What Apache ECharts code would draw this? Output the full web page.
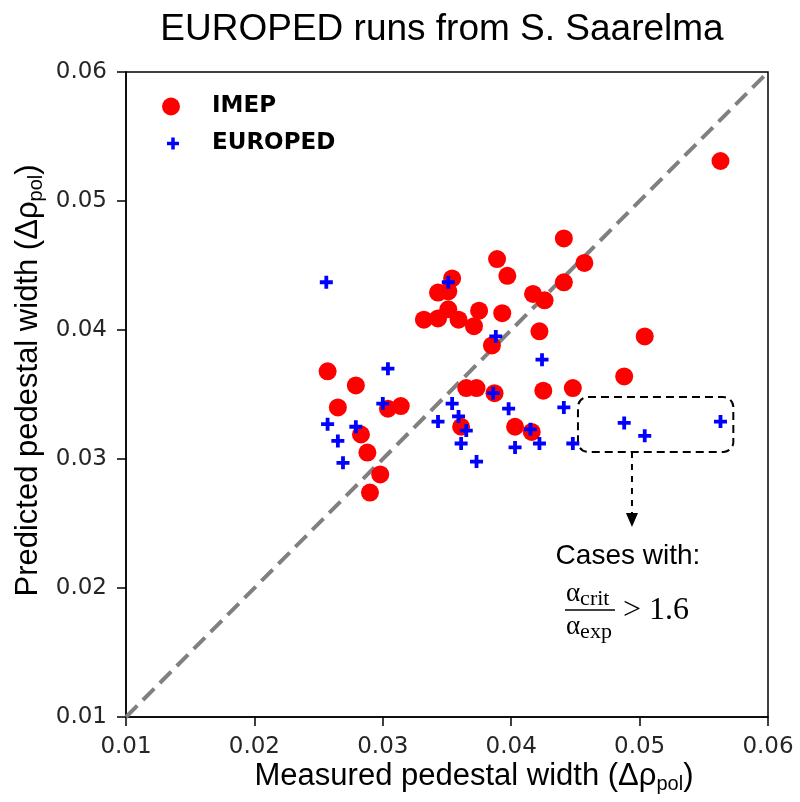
<!DOCTYPE html>
<html>
<head>
<meta charset="utf-8">
<script src="https://cdn.jsdelivr.net/npm/echarts@6/dist/echarts.min.js"></script>
<style>
  html, body { margin: 0; padding: 0; background: #fff; }
  #chart { width: 800px; height: 802px; }
</style>
</head>
<body>
<div id="chart"></div>
<script>
// Measured vs predicted pedestal width, [measured, predicted]
const imepPoints = [
  [0.0563, 0.0531], [0.0441, 0.0471], [0.0457, 0.0452], [0.0441, 0.0437],
  [0.0417, 0.0428], [0.0426, 0.0423], [0.0422, 0.0399], [0.0504, 0.0395],
  [0.0488, 0.0364], [0.0425, 0.0353], [0.0448, 0.0355], [0.0416, 0.0321],
  [0.0389, 0.0455], [0.0397, 0.0442], [0.0354, 0.0440], [0.0343, 0.0429],
  [0.0351, 0.0430], [0.0332, 0.0408], [0.0343, 0.0409], [0.0351, 0.0416],
  [0.0359, 0.0408], [0.0371, 0.0403], [0.0375, 0.0415], [0.0393, 0.0413],
  [0.0385, 0.0388], [0.0257, 0.0368], [0.0279, 0.0357], [0.0265, 0.0340],
  [0.0304, 0.0339], [0.0314, 0.0341], [0.0365, 0.0355], [0.0373, 0.0355],
  [0.0387, 0.0351], [0.0361, 0.0325], [0.0403, 0.0325], [0.0283, 0.0319],
  [0.0288, 0.0305], [0.0298, 0.0288], [0.0290, 0.0274]
];
const europedPoints = [
  [0.0351, 0.0437], [0.0388, 0.0395], [0.0424, 0.0377], [0.0256, 0.0437],
  [0.0304, 0.0370], [0.0300, 0.0343], [0.0386, 0.0351], [0.0354, 0.0343],
  [0.0359, 0.0333], [0.0343, 0.0329], [0.0365, 0.0322], [0.0398, 0.0339],
  [0.0415, 0.0323], [0.0422, 0.0312], [0.0257, 0.0327], [0.0279, 0.0325],
  [0.0265, 0.0314], [0.0269, 0.0297], [0.0361, 0.0312], [0.0403, 0.0309],
  [0.0373, 0.0298], [0.0441, 0.0340], [0.0488, 0.0328], [0.0563, 0.0329],
  [0.0504, 0.0318], [0.0448, 0.0312]
];
// y = x reference line
const identityLine = [[0.01, 0.01], [0.06, 0.06]];
// highlighted group: [xMin, xMax, yMin, yMax]
const highlightBox = [0.0452, 0.0573, 0.03055, 0.0348];
const axisMin = 0.01, axisMax = 0.06, axisStep = 0.01;

const plusPath = 'path://M4.6,0H8.4V4.6H13V8.4H8.4V13H4.6V8.4H0V4.6H4.6Z';
const sansFont = '"Liberation Sans", Arial, sans-serif';
const serifFont = '"Liberation Serif", "DejaVu Serif", serif';
const labelFont = '"DejaVu Sans", sans-serif';

const chart = echarts.init(document.getElementById('chart'), null, { renderer: 'canvas' });

const axisNameRich = {
  base: { fontFamily: sansFont, fontSize: 31, color: '#000' },
  sub: { fontFamily: sansFont, fontSize: 20, color: '#000', padding: [16, 0, 0, 0] }
};

function valueAxis(name, nameGap, namePadding) {
  return {
    type: 'value',
    min: axisMin, max: axisMax, interval: axisStep,
    name: name,
    nameLocation: 'middle',
    nameGap: nameGap,
    nameMoveOverlap: false,
    nameTextStyle: { rich: axisNameRich, padding: namePadding },
    axisLine: { show: true, lineStyle: { color: '#000', width: 1.5 } },
    axisTick: { show: true, length: 9, lineStyle: { color: '#000', width: 1.5 } },
    axisLabel: {
      fontFamily: labelFont, fontSize: 23, color: '#262626', margin: 19,
      formatter: v => v.toFixed(2)
    },
    splitLine: { show: false }
  };
}

const legendText = { fontFamily: labelFont, fontSize: 23, fontWeight: 'bold', color: '#000' };

chart.setOption({
  animation: false,
  backgroundColor: '#fff',
  title: {
    text: 'EUROPED runs from S. Saarelma',
    left: 437, top: 6, textAlign: 'center',
    textStyle: { fontFamily: sansFont, fontSize: 37, fontWeight: 'normal', color: '#000' }
  },
  grid: {
    left: 126, right: 32, top: 72, bottom: 85,
    show: true, borderColor: '#000', borderWidth: 1.5, backgroundColor: 'transparent'
  },
  legend: [
    {
      orient: 'vertical', left: 157, top: 90,
      itemWidth: 18, itemHeight: 18,
      textStyle: Object.assign({ padding: [0, 0, 0, 27] }, legendText),
      data: [{ name: 'IMEP', icon: 'circle' }]
    },
    {
      orient: 'vertical', left: 162, top: 127,
      itemWidth: 12, itemHeight: 12,
      textStyle: Object.assign({ padding: [0, 0, 0, 28] }, legendText),
      data: [{ name: 'EUROPED', icon: plusPath }]
    }
  ],
  xAxis: valueAxis('{base|Measured pedestal width (Δρ}{sub|pol}{base|)}', 41, [0, 0, 0, 54]),
  yAxis: valueAxis('{base|Predicted pedestal width (Δρ}{sub|pol}{base|)}', 80, [0, 0, 0, 28]),
  series: [
    {
      name: 'identity', type: 'line', data: identityLine, symbol: 'none', silent: true,
      lineStyle: { color: '#808080', width: 4, type: [16, 8] }, z: 1
    },
    {
      name: 'IMEP', type: 'scatter', data: imepPoints, symbol: 'circle', symbolSize: 18,
      itemStyle: { color: '#ff0000', opacity: 1 }, z: 3
    },
    {
      name: 'EUROPED', type: 'scatter', data: europedPoints, symbol: plusPath, symbolSize: 13,
      itemStyle: { color: '#0000ff', opacity: 1 }, z: 4
    }
  ]
});

// Annotation: dashed box around the highlighted cases, arrow and condition text
const p1 = chart.convertToPixel({ gridIndex: 0 }, [highlightBox[0], highlightBox[3]]);
const p2 = chart.convertToPixel({ gridIndex: 0 }, [highlightBox[1], highlightBox[2]]);
const arrowX = p1[0] + 54;
const arrowTop = p2[1];
const arrowTip = arrowTop + 75;
const fracLeft = arrowX - 66;
const fracY = arrowTip + 83;

chart.setOption({
  graphic: [
    {
      type: 'rect', silent: true,
      shape: { x: p1[0], y: p1[1], width: p2[0] - p1[0], height: p2[1] - p1[1], r: 10 },
      style: { fill: 'none', stroke: '#000', lineWidth: 2, lineDash: [8, 5] }
    },
    {
      type: 'line', silent: true,
      shape: { x1: arrowX, y1: arrowTop, x2: arrowX, y2: arrowTip - 12 },
      style: { stroke: '#000', lineWidth: 2, lineDash: [6, 6] }
    },
    {
      type: 'polygon', silent: true,
      shape: { points: [[arrowX - 6, arrowTip - 14], [arrowX + 6, arrowTip - 14], [arrowX, arrowTip]] },
      style: { fill: '#000' }
    },
    {
      type: 'text', silent: true, x: arrowX - 4, y: arrowTip + 15,
      style: { text: 'Cases with:', font: '28px ' + sansFont, fill: '#000', align: 'center', verticalAlign: 'top' }
    },
    {
      type: 'text', silent: true, x: fracLeft, y: fracY - 31,
      style: {
        text: '{a|α}{s|crit}', align: 'left', verticalAlign: 'top',
        rich: {
          a: { font: '27px ' + serifFont, fill: '#000' },
          s: { font: '22px ' + serifFont, fill: '#000', padding: [9, 0, 0, 0] }
        }
      }
    },
    {
      type: 'line', silent: true,
      shape: { x1: fracLeft - 1, y1: fracY, x2: fracLeft + 49, y2: fracY },
      style: { stroke: '#000', lineWidth: 1.5 }
    },
    {
      type: 'text', silent: true, x: fracLeft, y: fracY + 2,
      style: {
        text: '{a|α}{s|exp}', align: 'left', verticalAlign: 'top',
        rich: {
          a: { font: '27px ' + serifFont, fill: '#000' },
          s: { font: '22px ' + serifFont, fill: '#000', padding: [9, 0, 0, 0] }
        }
      }
    },
    {
      type: 'text', silent: true, x: fracLeft + 57, y: fracY + 1,
      style: { text: '> 1.6', font: '32px ' + serifFont, fill: '#000', align: 'left', verticalAlign: 'middle' }
    }
  ]
});
</script>
</body>
</html>
